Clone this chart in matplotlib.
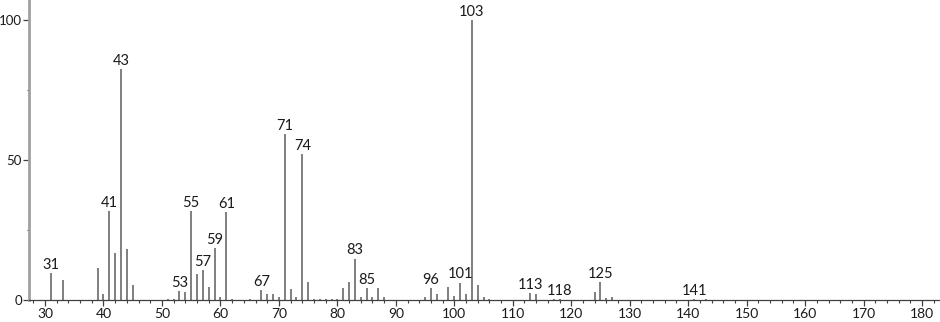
import matplotlib.pyplot as plt
from matplotlib.ticker import MultipleLocator

plt.rcParams['font.family'] = ['Lato', 'DejaVu Sans']

# m/z and relative intensity
mz = [31, 33, 39, 40, 41, 42, 43, 44, 45, 51, 52, 53, 54, 55, 56, 57, 58, 59, 60,
      61, 62, 65, 67, 68, 69, 70, 71, 72, 73, 74, 75, 76, 77, 78, 79, 80, 81, 82,
      83, 84, 85, 86, 87, 88, 95, 96, 97, 99, 100, 101, 102, 103, 104, 105, 106,
      113, 114, 117, 118, 124, 125, 126, 127, 141, 143]
intensity = [9.5, 7.1, 11.3, 2.0, 31.8, 16.7, 82.4, 18.2, 5.2, 0.5, 0.5, 3.3, 2.7,
             31.8, 9.2, 10.7, 4.6, 18.5, 1.0, 31.3, 0.3, 0.3, 3.6, 2.0, 2.1, 1.2,
             59.3, 3.9, 1.2, 52.2, 6.3, 0.5, 0.5, 0.3, 0.3, 0.5, 4.2, 6.5, 14.8,
             1.2, 4.2, 1.0, 4.2, 1.0, 1.0, 4.4, 2.2, 4.8, 1.4, 6.2, 2.2, 100.0,
             5.2, 1.0, 0.3, 2.5, 2.0, 0.5, 0.3, 2.9, 6.3, 0.6, 1.0, 0.3, 0.2]

labeled = [31, 41, 43, 53, 55, 57, 59, 61, 67, 71, 74, 83, 85, 96, 101, 103,
           113, 118, 125, 141]

fig = plt.figure(figsize=(9.4, 3.22), dpi=100)
ax = fig.add_axes([29 / 940, 22 / 322, 1 - 29 / 940, 1 - 22 / 322])

ax.vlines(mz, 0, intensity, colors='#757575', linewidth=1.3)

peaks = dict(zip(mz, intensity))
for m in labeled:
    ax.annotate(str(m), (m, peaks[m]), xytext=(0, 3), textcoords='offset points',
                ha='center', va='baseline', fontsize=10.5, color='#1a1a1a')

ax.set_xlim(27.26, 183.07)
ax.set_ylim(0, 107.1)

for s in ['top', 'right']:
    ax.spines[s].set_visible(False)
ax.spines['left'].set_color('#a0a0a0')
ax.spines['left'].set_linewidth(2)
ax.spines['bottom'].set_color('#404040')
ax.spines['bottom'].set_linewidth(0.9)

ax.xaxis.set_major_locator(MultipleLocator(10))
ax.xaxis.set_minor_locator(MultipleLocator(2))
ax.yaxis.set_major_locator(MultipleLocator(50))
ax.yaxis.set_minor_locator(MultipleLocator(25))

ax.tick_params(axis='x', which='major', length=4.5, width=0.9, color='#404040',
               labelsize=10, labelcolor='#1a1a1a', pad=1.5)
ax.tick_params(axis='x', which='minor', length=2.2, width=0.8, color='#404040')
ax.tick_params(axis='y', which='major', length=4.5, width=0.9, color='#404040',
               labelsize=9.5, labelcolor='#1a1a1a', pad=0.5)
ax.tick_params(axis='y', which='minor', length=1.5, width=0.8, color='#404040')

fig.savefig('out.png', dpi=100)
